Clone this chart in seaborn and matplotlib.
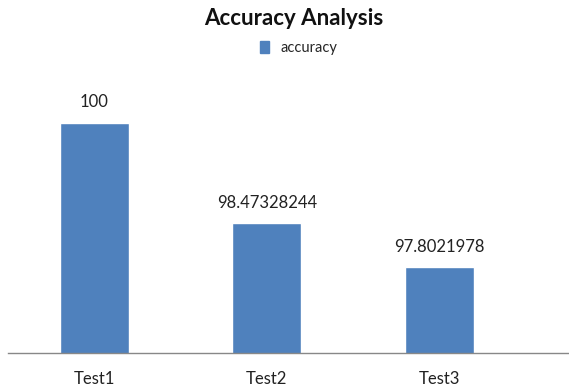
import matplotlib
matplotlib.use("Agg")
import matplotlib.pyplot as plt
import seaborn as sns
import pandas as pd
from matplotlib.patches import Patch

tests = ["Test1", "Test2", "Test3"]
accuracy = [100, 98.47328244, 97.8021978]
value_labels = ["100", "98.47328244", "97.8021978"]

sns.set_theme(style="white")
plt.rcParams["font.family"] = ["Lato", "DejaVu Sans"]

df = pd.DataFrame({"test": tests, "accuracy": accuracy})

fig = plt.figure(figsize=(5.69, 3.89), dpi=100)
ax = fig.add_axes([8 / 569, 36 / 389, 1 - 8 / 569, 273 / 389])
color = "#4F81BD"
sns.barplot(data=df, x="test", y="accuracy", color=color, width=0.4,
            saturation=1, ax=ax)

ax.set_ylim(96.5, 100.65)
ax.set_xlim(-0.5, 2.75)
ax.set_xlabel("")
ax.set_ylabel("")
ax.set_yticks([])
for s in ["top", "right", "left"]:
    ax.spines[s].set_visible(False)
ax.spines["bottom"].set_color("#888888")
ax.spines["bottom"].set_linewidth(1.0)
ax.tick_params(axis="x", length=0, pad=13, labelsize=12, colors="#222222")

for i, (v, lab) in enumerate(zip(accuracy, value_labels)):
    ax.annotate(lab, (i, v), xytext=(0, 9), textcoords="offset points",
                ha="center", va="bottom", fontsize=12, color="#222222")

fig.text(0.516, 0.953, "Accuracy Analysis", ha="center", va="center",
         fontsize=16, fontweight="bold", color="#111111")
fig.legend(handles=[Patch(color=color, label="accuracy")],
           loc="center", bbox_to_anchor=(0.525, 0.877), frameon=False,
           fontsize=10.5, handlelength=0.6, handleheight=0.9, handletextpad=0.8)

fig.savefig("out.png", dpi=100)
